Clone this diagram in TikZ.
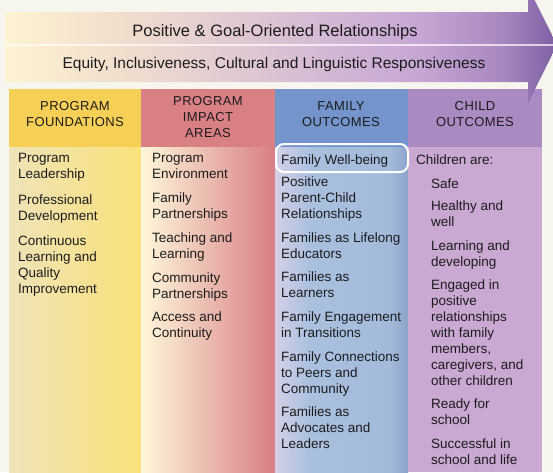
\documentclass[tikz,border=0pt]{standalone}
\usepackage{fontspec}
\setmainfont{Liberation Sans}
\newfontfamily\capsfont[LetterSpace=3]{Liberation Sans}
\usetikzlibrary{positioning}
\definecolor{paper}{HTML}{F6F5EE}
\definecolor{ink}{HTML}{1C1C1C}
\definecolor{arA}{HTML}{FEF3D2}
\definecolor{arB}{HTML}{F0DDCD}
\definecolor{arC}{HTML}{DAC1D4}
\definecolor{arD}{HTML}{C6A7D4}
\definecolor{arE}{HTML}{A888C0}
\definecolor{arF}{HTML}{7E5FA3}
\definecolor{pfHead}{HTML}{F5CF56}
\definecolor{pfL}{HTML}{EFE3B8}
\definecolor{pfR}{HTML}{F9E27A}
\definecolor{piHead}{HTML}{D98085}
\definecolor{piL}{HTML}{FEF7DA}
\definecolor{piR}{HTML}{D87E86}
\definecolor{foHead}{HTML}{7395CC}
\definecolor{foA}{HTML}{D3D1E7}
\definecolor{foB}{HTML}{AAC0DF}
\definecolor{foC}{HTML}{A3BADB}
\definecolor{foD}{HTML}{8EA3CA}
\definecolor{coHead}{HTML}{A98AC3}
\definecolor{coBody}{HTML}{C9A8D2}
\pgfdeclarehorizontalshading{arrowshade}{100bp}{color(0bp)=(arA); color(25bp)=(arA); color(36bp)=(arB); color(50bp)=(arC); color(62.5bp)=(arD); color(70bp)=(arE); color(75bp)=(arF); color(100bp)=(arF)}
\pgfdeclarehorizontalshading{blueshade}{100bp}{color(0bp)=(foA); color(25bp)=(foA); color(38bp)=(foB); color(68bp)=(foC); color(75bp)=(foD); color(100bp)=(foD)}
\tikzset{
  item/.style={anchor=north west, align=left, inner sep=0pt, text=ink, font=\fontsize{13.5}{16}\selectfont, execute at begin node=\strut},
  headlabel/.style={anchor=north, align=center, inner sep=0pt, text=ink, font=\capsfont\fontsize{13}{16}\selectfont, execute at begin node=\strut},
  bandlabel/.style={anchor=base, inner sep=0pt, text=ink},
  wellbox/.style={draw=white, line width=2pt, rounded corners=8pt}
}
\begin{document}
\begin{tikzpicture}[x=1pt,y=-1pt]
    \useasboundingbox[fill=paper] (0,0) rectangle (553,472);
    \def\hy{89}
    \def\by{147}
    \def\ey{472}
    \shade[left color=pfL,right color=pfR] (9,\by) rectangle (141,\ey);
    \shade[left color=piL,right color=piR] (141,\by) rectangle (275,\ey);
    \shade[shading=blueshade] (275,\by) rectangle (408,\ey);
    \fill[coBody] (408,\by) rectangle (542,\ey);
    \foreach \c/\xl/\xr in {pfHead/9/141,piHead/141/275,foHead/275/408,coHead/408/542}
    \fill[\c] (\xl,\hy) rectangle (\xr,\by);
    \shade[shading=arrowshade] (5,12) -- (528,12) -- (528,-13) -- (557,45) -- (528,103) -- (528,82) -- (5,82) -- cycle;
    \draw[white,opacity=.7,line width=1.2pt] (5,45) -- (556,45);
    \node[bandlabel,font=\fontsize{16.5}{20}\selectfont] (rel) at (275,36) {Positive \& Goal-Oriented Relationships};
    \node[bandlabel,font=\fontsize{15.5}{19}\selectfont] (eq) at (274,68) {Equity, Inclusiveness, Cultural and Linguistic Responsiveness};
    \foreach \n/\x/\y/\t in {1/75/101/{PROGRAM\\FOUNDATIONS},2/208/96/{PROGRAM\\IMPACT\\AREAS},3/341/101/{FAMILY\\OUTCOMES},4/475/101/{CHILD\\OUTCOMES}}
    \node[headlabel] (h\n) at (\x,\y) {\t};
    \foreach \n/\y/\t in {1/162/{Program\\Leadership},2/204/{Professional\\Development},3/245/{Continuous\\Learning and\\Quality\\Improvement}}
    \node[item] (pf\n) at (18,\y-9.4) {\t};
    \foreach \n/\y/\t in {1/162/{Program\\Environment},2/202/{Family\\Partnerships},3/242/{Teaching and\\Learning},4/282/{Community\\Partnerships},5/321/{Access and\\Continuity}}
    \node[item] (pi\n) at (152,\y-9.4) {\t};
    \foreach \n/\y/\t in {1/162/{Family Well-being},2/186/{Positive\\Parent-Child\\Relationships},3/242/{Families as Lifelong\\Educators},4/281/{Families as\\Learners},5/321/{Family Engagement\\in Transitions},6/361/{Family Connections\\to Peers and\\Community},7/416/{Families as\\Advocates and\\Leaders}}
    \node[item] (fo\n) at (281,\y-9.4) {\t};
    \draw[wellbox] (276,144) rectangle (408,172);
    \node[item] (co0) at (416,162-9.4) {Children are:};
    \foreach \n/\y/\t in {1/186/{Safe},2/210/{Healthy and\\well},3/250/{Learning and\\developing},4/289/{Engaged in\\positive\\relationships\\with family\\members,\\caregivers, and\\other children},5/408/{Ready for\\school},6/448/{Successful in\\school and life}}
    \node[item] (co\n) at (431,\y-9.4) {\t};
\end{tikzpicture}
\end{document}
